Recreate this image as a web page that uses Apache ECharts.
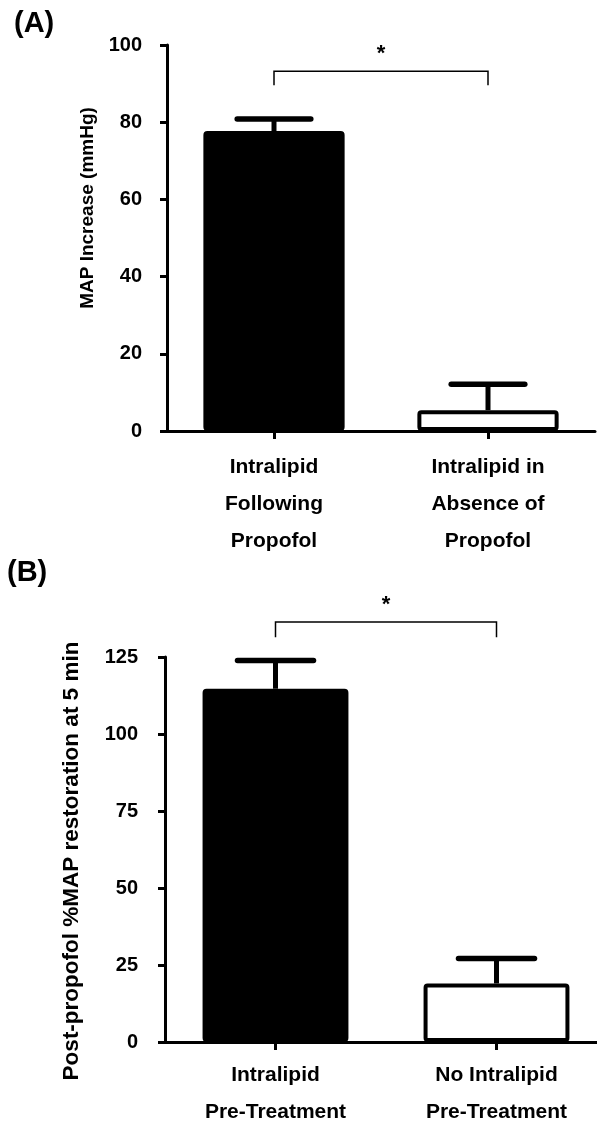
<!DOCTYPE html>
<html>
<head>
<meta charset="utf-8">
<script src="https://cdn.jsdelivr.net/npm/echarts@6/dist/echarts.min.js"></script>
<style>
  html, body { margin: 0; padding: 0; background: #fff; }
  #chart { width: 597px; height: 1125px; }
</style>
</head>
<body>
<div id="chart"></div>
<script>
// panel A
const catsA = ['Intralipid\nFollowing\nPropofol', 'Intralipid in\nAbsence of\nPropofol']
const meanA = [77.7, 5.4]
const upperA = [80.8, 12.1]
const sigA = [93.2, 89.6] // bracket top, bracket leg end

// panel B
const catsB = ['Intralipid\nPre-Treatment', 'No Intralipid\nPre-Treatment']
const meanB = [114.7, 19.0]
const upperB = [123.9, 27.1]
const sigB = [136.4, 131.4]

const barColors = ['#000', '#fff']
const font = 'Liberation Sans, Arial, sans-serif'

const chart = echarts.init(document.getElementById('chart'))

function axisLine () {
  return { show: true, lineStyle: { color: '#000', width: 3 } }
}
function axisTick (len) {
  return { show: true, length: len, lineStyle: { color: '#000', width: 3 } }
}

function xAxis (idx, cats, margin) {
  return {
    type: 'category',
    gridIndex: idx,
    data: cats,
    axisLine: axisLine(),
    axisTick: Object.assign(axisTick(8), { alignWithLabel: true }),
    axisLabel: {
      color: '#000',
      fontFamily: font,
      fontWeight: 'bold',
      fontSize: 21,
      lineHeight: 37,
      margin: margin
    },
    splitLine: { show: false }
  }
}

function yAxis (idx, max, interval, name, gap, size, pad, margin) {
  return {
    type: 'value',
    gridIndex: idx,
    min: 0,
    max: max,
    interval: interval,
    name: name,
    nameLocation: 'middle',
    nameGap: gap,
    nameTextStyle: { color: '#000', fontFamily: font, fontWeight: 'bold', fontSize: size, padding: pad },
    axisLine: axisLine(),
    axisTick: axisTick(7),
    axisLabel: { color: '#000', fontFamily: font, fontWeight: 'bold', fontSize: 20, margin: margin },
    splitLine: { show: false }
  }
}

function bars (idx, vals) {
  return {
    type: 'bar',
    xAxisIndex: idx,
    yAxisIndex: idx,
    barWidth: '66%',
    data: vals.map((v, i) => ({
      value: v,
      itemStyle: { color: barColors[i], borderColor: '#000', borderWidth: 4, borderRadius: 2 }
    })),
    z: 2
  }
}

function errorBars (idx, means, uppers) {
  return {
    type: 'custom',
    xAxisIndex: idx,
    yAxisIndex: idx,
    z: 3,
    clip: false,
    encode: { x: 0, y: [1, 2] },
    data: means.map((m, i) => [i, m, uppers[i]]),
    renderItem: function (params, api) {
      const base = api.coord([api.value(0), api.value(1)])
      const top = api.coord([api.value(0), api.value(2)])
      const half = api.size([1, 0])[0] * 0.172
      return {
        type: 'group',
        children: [
          { type: 'line', shape: { x1: base[0], y1: base[1], x2: top[0], y2: top[1] }, style: { stroke: '#000', lineWidth: 5 } },
          { type: 'line', shape: { x1: top[0] - half, y1: top[1], x2: top[0] + half, y2: top[1] }, style: { stroke: '#000', lineWidth: 5.5, lineCap: 'round' } }
        ]
      }
    }
  }
}

function bracket (idx, sig) {
  return {
    type: 'custom',
    xAxisIndex: idx,
    yAxisIndex: idx,
    z: 3,
    clip: false,
    encode: { x: [0, 1], y: [2, 3] },
    data: [[0, 1, sig[0], sig[1]]],
    renderItem: function (params, api) {
      const a = api.coord([api.value(0), api.value(3)])
      const b = api.coord([api.value(0), api.value(2)])
      const c = api.coord([api.value(1), api.value(2)])
      const d = api.coord([api.value(1), api.value(3)])
      return {
        type: 'group',
        children: [
          { type: 'polyline', shape: { points: [a, b, c, d] }, style: { stroke: '#000', lineWidth: 1.5, fill: null } },
          { type: 'text', style: { text: '*', x: (b[0] + c[0]) / 2, y: b[1] - 17, align: 'center', verticalAlign: 'middle', font: 'bold 22px ' + font, fill: '#000' } }
        ]
      }
    }
  }
}

const option = {
  backgroundColor: '#fff',
  animation: false,
  title: [
    { text: '(A)', left: 9, top: 4, textStyle: { fontFamily: font, fontWeight: 'bold', fontSize: 29, color: '#000' } },
    { text: '(B)', left: 2, top: 553, textStyle: { fontFamily: font, fontWeight: 'bold', fontSize: 29, color: '#000' } }
  ],
  grid: [
    { left: 167, top: 45, width: 428, height: 386, outerBoundsMode: 'none' },
    { left: 165, top: 657, width: 442, height: 385, outerBoundsMode: 'none' }
  ],
  xAxis: [xAxis(0, catsA, 18), xAxis(1, catsB, 15)],
  yAxis: [
    yAxis(0, 100, 20, 'MAP Increase (mmHg)', 61, 19, [0, 0, 0, 60], 25),
    yAxis(1, 125, 25, 'Post-propofol %MAP restoration at 5 min', 82, 22.5, [0, 23, 0, 0], 27)
  ],
  series: [
    bars(0, meanA), errorBars(0, meanA, upperA), bracket(0, sigA),
    bars(1, meanB), errorBars(1, meanB, upperB), bracket(1, sigB)
  ]
}

chart.setOption(option)
</script>
</body>
</html>
